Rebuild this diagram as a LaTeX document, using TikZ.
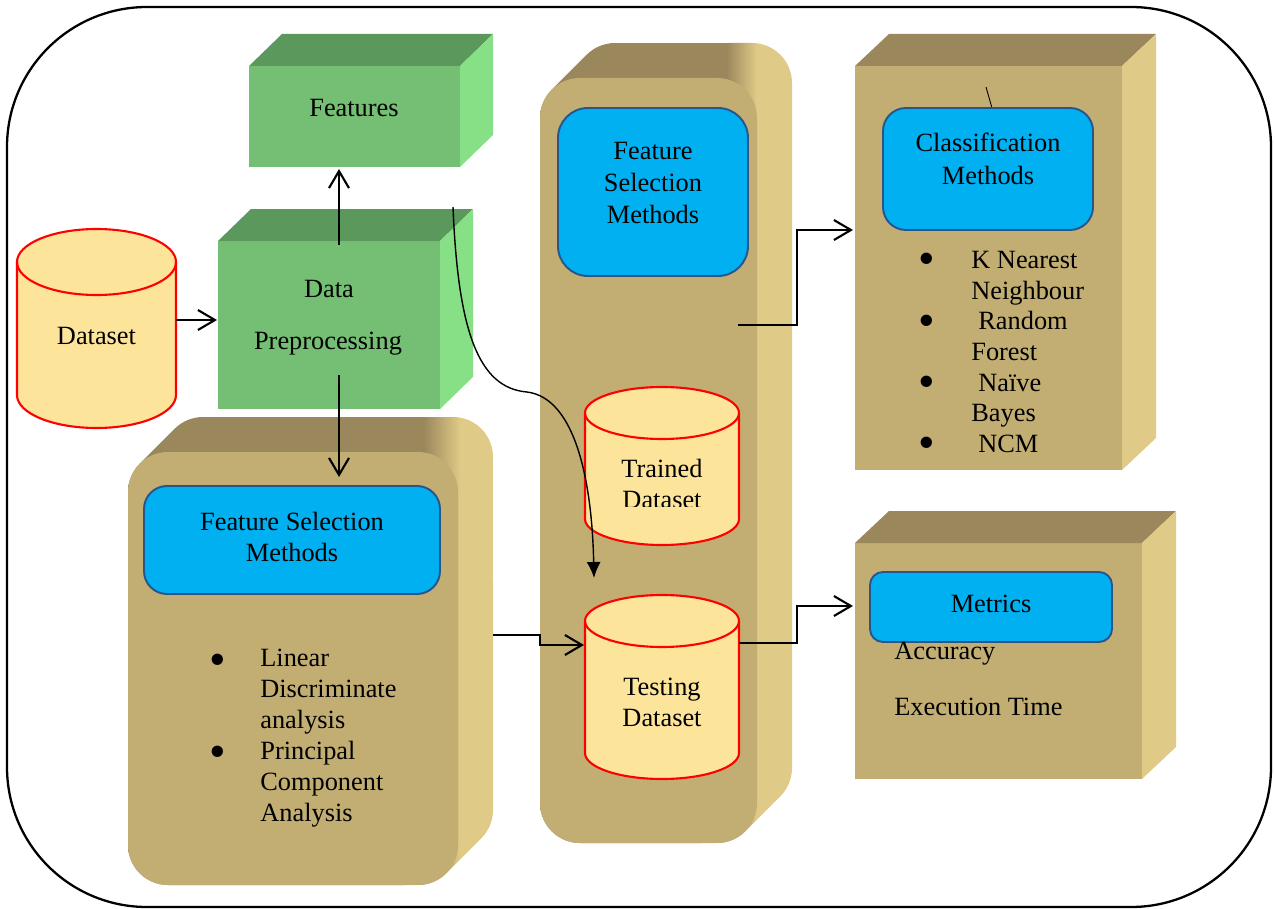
\documentclass[tikz,border=0pt]{standalone}
\usepackage{fontspec}
\setmainfont{Liberation Serif}
\usetikzlibrary{arrows.meta}

\definecolor{greenfront}{RGB}{117,191,116}
\definecolor{greentop}{RGB}{91,152,92}
\definecolor{greenside}{RGB}{135,223,134}
\definecolor{tanfront}{RGB}{194,174,115}
\definecolor{tantop}{RGB}{154,135,92}
\definecolor{tanside}{RGB}{224,202,135}
\definecolor{dbfill}{RGB}{253,228,155}
\definecolor{methodblue}{RGB}{0,176,240}
\definecolor{bluedge}{RGB}{40,85,140}

\pgfdeclarehorizontalshading{tanshade}{100bp}{color(0bp)=(tantop); color(62bp)=(tantop); color(68bp)=(tanside); color(100bp)=(tanside)}
\pgfdeclarehorizontalshading{tanshadewide}{100bp}{color(0bp)=(tantop); color(65.5bp)=(tantop); color(70.5bp)=(tanside); color(100bp)=(tanside)}

\begin{document}
\begin{tikzpicture}[x=0.02cm, y=-0.02cm,
    every node/.style={font=\fontsize{15}{17.6}\selectfont, inner sep=0pt},
    bullet/.style={font=\fontsize{27}{27}\selectfont},
    dbcyl/.style={fill=dbfill, draw=red, line width=1.2pt},
    methodbox/.style={fill=methodblue, draw=bluedge, line width=1.1pt},
    flow/.style={line width=1.2pt, -{Straight Barb[length=3.4mm,width=4mm]}},
    curvedflow/.style={line width=0.8pt, -{Latex[length=3.2mm,width=2.8mm]}}]

    \useasboundingbox (0,0) rectangle (1275,909);

    % Frame
    \draw[line width=1.3pt, rounded corners=2.8cm] (7,7) rectangle (1271,907);

    % Green boxes: Features, Data Preprocessing
    \fill[greenfront] (249,66) rectangle (460,167);
    \fill[greentop] (249,66) -- (282,34) -- (493,34) -- (460,66) -- cycle;
    \fill[greenside] (460,66) -- (493,34) -- (493,135) -- (460,167) -- cycle;

    \fill[greenfront] (218,241) rectangle (440,409);
    \fill[greentop] (218,241) -- (251,209) -- (473,209) -- (440,241) -- cycle;
    \fill[greenside] (440,241) -- (473,209) -- (473,377) -- (440,409) -- cycle;

    % Rounded tan boxes (left and middle)
    \shade[shading=tanshadewide] (128,845) -- (128,492) arc[start angle=180,end angle=135,radius=0.8cm]
        -- ++(35,-35) arc[start angle=135,end angle=90,radius=0.8cm]
        -- (453,417) arc[start angle=90,end angle=0,radius=0.8cm]
        -- (493,810) arc[start angle=0,end angle=-45,radius=0.8cm]
        -- ++(-35,35) arc[start angle=-45,end angle=-90,radius=0.8cm]
        -- (168,885) arc[start angle=-90,end angle=-180,radius=0.8cm] -- cycle;
    \fill[tanfront, rounded corners=0.8cm] (128,452) rectangle (458,885);

    \shade[shading=tanshade] (540,803) -- (540,118) arc[start angle=180,end angle=135,radius=0.8cm]
        -- ++(35,-35) arc[start angle=135,end angle=90,radius=0.8cm]
        -- (752,43) arc[start angle=90,end angle=0,radius=0.8cm]
        -- (792,768) arc[start angle=0,end angle=-45,radius=0.8cm]
        -- ++(-35,35) arc[start angle=-45,end angle=-90,radius=0.8cm]
        -- (580,843) arc[start angle=-90,end angle=-180,radius=0.8cm] -- cycle;
    \fill[tanfront, rounded corners=0.8cm] (540,78) rectangle (757,843);

    % Tan boxes (classification, metrics)
    \fill[tanfront] (855,66) rectangle (1122,470);
    \fill[tantop] (855,66) -- (889,34) -- (1156,34) -- (1122,66) -- cycle;
    \fill[tanside] (1122,66) -- (1156,34) -- (1156,438) -- (1122,470) -- cycle;

    \fill[tanfront] (855,543) rectangle (1142,779);
    \fill[tantop] (855,543) -- (889,511) -- (1176,511) -- (1142,543) -- cycle;
    \fill[tanside] (1142,543) -- (1176,511) -- (1176,747) -- (1142,779) -- cycle;

    % Cylinders
    \foreach \cx/\yt/\yb/\rx/\ry in {96.5/262/395/79.5/33, 662/413/519/77/26, 662/621/753/77/26} {
        \draw[dbcyl] ({\cx-\rx},\yt) -- ({\cx-\rx},\yb)
            arc[start angle=180,end angle=360,x radius=\rx*0.02cm,y radius=\ry*0.02cm]
            -- ({\cx+\rx},\yt)
            arc[start angle=0,end angle=180,x radius=\rx*0.02cm,y radius=\ry*0.02cm] -- cycle;
        \draw[dbcyl, fill=none] ({\cx-\rx},\yt)
            arc[start angle=180,end angle=360,x radius=\rx*0.02cm,y radius=\ry*0.02cm];
    }

    % Method boxes
    \draw[line width=0.5pt] (986,87) -- (992,108);
    \draw[methodbox, rounded corners=0.46cm] (144,486) rectangle (440,594);
    \draw[methodbox, rounded corners=0.6cm] (558,108) rectangle (748,276);
    \draw[methodbox, rounded corners=0.46cm] (883,108) rectangle (1093,230);
    \draw[methodbox, rounded corners=0.26cm] (870,572) rectangle (1112,642);

    % Labels
    \node (dsText) at (96.5,336) {Dataset};
    \node (dpData) at (329,289) {Data};
    \node (dpPre) at (328,344) {Preprocessing};
    \node (featText) at (354,108) {Features};
    \node[align=center] (fslText) at (292,537) {Feature Selection\\Methods};
    \node[align=left, anchor=west] (fslList) at (260,738) {Linear\\Discriminate\\analysis\\Principal\\Component\\Analysis};
    \foreach \y [count=\i] in {665,757}
        \node[bullet] (fslB\i) at (218,\y) {\textbullet};
    \node[align=center, font=\fontsize{15}{18.4}\selectfont] (fsmText) at (653,183) {Feature\\Selection\\Methods};
    \begin{scope}
        \clip (585,440) rectangle (739,506);
        \node[align=center] (trainText) at (662,484) {Trained\\Dataset};
    \end{scope}
    \node[align=center] (testText) at (662,702) {Testing\\Dataset};
    \node[align=center, font=\fontsize{15}{18.7}\selectfont] (clsText) at (988,159) {Classification\\Methods};
    \node[align=left, anchor=west, font=\fontsize{15}{17.4}\selectfont] (clsList) at (971,352)
        {K Nearest\\Neighbour\\\hspace*{4pt}Random\\Forest\\\hspace*{4pt}Naïve\\Bayes\\\hspace*{4pt}NCM};
    \foreach \y [count=\i] in {264,326,387,448}
        \node[bullet] (clsB\i) at (927,\y) {\textbullet};
    \node (metText) at (991,604) {Metrics};
    \node[anchor=west] (accText) at (894,654) {Accuracy};
    \node[anchor=west] (exeText) at (894,707) {Execution Time};

    % Connector ends
    \coordinate (dsE) at (176,320);
    \coordinate (dpW) at (217,320);
    \coordinate (dpN) at (339,245);
    \coordinate (featS) at (339,169);
    \coordinate (dpS) at (339,375);
    \coordinate (fslN) at (339,477);
    \coordinate (fslE) at (493,635);
    \coordinate (testW) at (584,645);
    \coordinate (testE) at (739,643);
    \coordinate (metW) at (853,606);
    \coordinate (fsmE) at (738,325);
    \coordinate (clsW) at (853,230);
    \coordinate (featC) at (453,207);
    \coordinate (testN) at (594,578);

    % Arrows
    \draw[flow] (dsE) -- (dpW);
    \draw[flow] (dpN) -- (featS);
    \draw[flow] (dpS) -- (fslN);
    \draw[flow] (fslE) -- (540,635) |- (testW);
    \draw[flow] (fsmE) -- (797,325) |- (clsW);
    \draw[flow] (testE) -- (797,643) |- (metW);
    \draw[curvedflow] (featC) .. controls (458,330) and (478,388) .. (527,392)
        .. controls (575,398) and (592,480) .. (testN);

\end{tikzpicture}
\end{document}
